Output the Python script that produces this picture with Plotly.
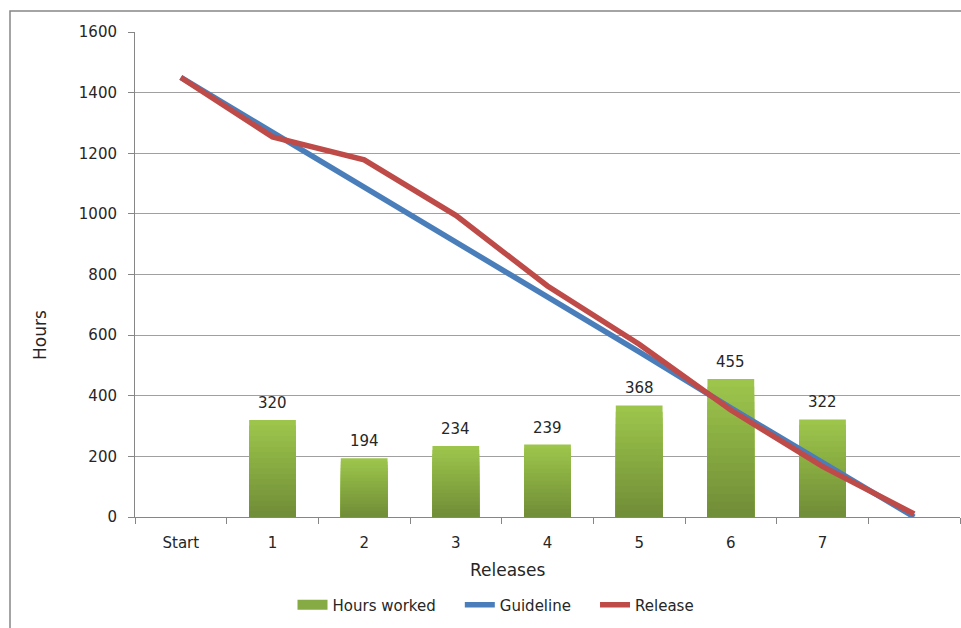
import plotly.graph_objects as go

# Release burndown data
categories = ["Start", "1", "2", "3", "4", "5", "6", "7", " "]
bar_categories = ["1", "2", "3", "4", "5", "6", "7"]
hours_worked = [320, 194, 234, 239, 368, 455, 322]
guideline = [1450, 1270, 1090, 905, 725, 545, 360, 180, 0]
release = [1450, 1254, 1178, 995, 762, 570, 353, 167, 10]
y_ticks = [0, 200, 400, 600, 800, 1000, 1200, 1400, 1600]

FONT = "DejaVu Sans"
TEXT = "#262626"
GRID = "#a0a0a0"
BAR_TOP = (157, 197, 75)
BAR_BOTTOM = (113, 142, 56)
PAD = "\u00a0" * 4  # spacing after each legend label

fig = go.Figure()

# Vertical gradient on the bars: stacked overlays, lighter at the top
steps = 18
for k in range(steps):
    frac = 1 - k / steps
    t = k / (steps - 1)
    rgb = tuple(round(a + (b - a) * t) for a, b in zip(BAR_TOP, BAR_BOTTOM))
    fig.add_trace(go.Bar(
        x=bar_categories,
        y=[v * frac for v in hours_worked],
        width=0.51,
        marker=dict(color="rgb(%d,%d,%d)" % rgb, line=dict(width=0)),
        name="Hours worked",
        showlegend=False,
        hoverinfo="skip",
    ))

# Legend entry for the bars: a wide green swatch
fig.add_trace(go.Scatter(
    x=[None], y=[None], mode="lines",
    line=dict(color="#86ab45", width=11),
    name="Hours worked" + PAD,
    showlegend=True,
))

fig.add_trace(go.Scatter(
    x=categories, y=guideline, mode="lines",
    line=dict(color="#4a7ebb", width=5.5),
    name="Guideline" + PAD,
))
fig.add_trace(go.Scatter(
    x=categories, y=release, mode="lines",
    line=dict(color="#be4b48", width=5.5),
    name="Release",
))

# Value labels above the bars
for c, v in zip(bar_categories, hours_worked):
    fig.add_annotation(
        x=c, y=v, text=str(v), showarrow=False,
        yanchor="bottom", yshift=6,
        font=dict(family=FONT, size=15, color=TEXT),
    )

# Axis titles
fig.add_annotation(
    xref="paper", yref="paper", x=(507 - 135) / 825, y=(517 - 570) / 485,
    text="Releases", showarrow=False, xanchor="center", yanchor="middle",
    font=dict(family=FONT, size=17, color=TEXT),
)
fig.add_annotation(
    xref="paper", yref="paper", x=(40 - 135) / 825, y=(517 - 335) / 485,
    text="Hours", showarrow=False, textangle=-90, xanchor="center", yanchor="middle",
    font=dict(family=FONT, size=17, color=TEXT),
)

# Outer chart frame
fig.add_shape(
    type="rect", xref="paper", yref="paper",
    x0=(10 - 135) / 825, x1=1.05, y0=-0.4, y1=(517 - 11) / 485,
    line=dict(color="#868686", width=1.5), layer="below",
)

fig.update_layout(
    width=961, height=628,
    margin=dict(l=135, r=1, t=32, b=111),
    paper_bgcolor="white", plot_bgcolor="white",
    barmode="overlay", bargap=0.49,
    font=dict(family=FONT, size=15, color=TEXT),
    showlegend=True,
    legend=dict(
        orientation="h", x=(496 - 135) / 825, y=(517 - 605) / 485,
        xanchor="center", yanchor="middle",
        font=dict(family=FONT, size=15, color=TEXT),
        tracegroupgap=0,
        traceorder="normal",
    ),
    xaxis=dict(
        type="category", categoryorder="array", categoryarray=categories,
        range=[-0.5, len(categories) - 0.5],
        showline=True, linecolor="#868686", linewidth=1,
        ticks="outside", ticklen=6, tickcolor="#868686", tickson="boundaries",
        showgrid=False, zeroline=False,
        tickfont=dict(family=FONT, size=15, color=TEXT),
        ticklabelstandoff=12,
    ),
    yaxis=dict(
        range=[0, 1600], tickvals=y_ticks,
        showline=True, linecolor="#868686", linewidth=1,
        ticks="outside", ticklen=6, tickcolor="#868686",
        showgrid=True, gridcolor=GRID, gridwidth=1,
        zeroline=False,
        tickfont=dict(family=FONT, size=15, color=TEXT),
        ticklabelstandoff=8,
    ),
)

fig.write_html("out.html")
